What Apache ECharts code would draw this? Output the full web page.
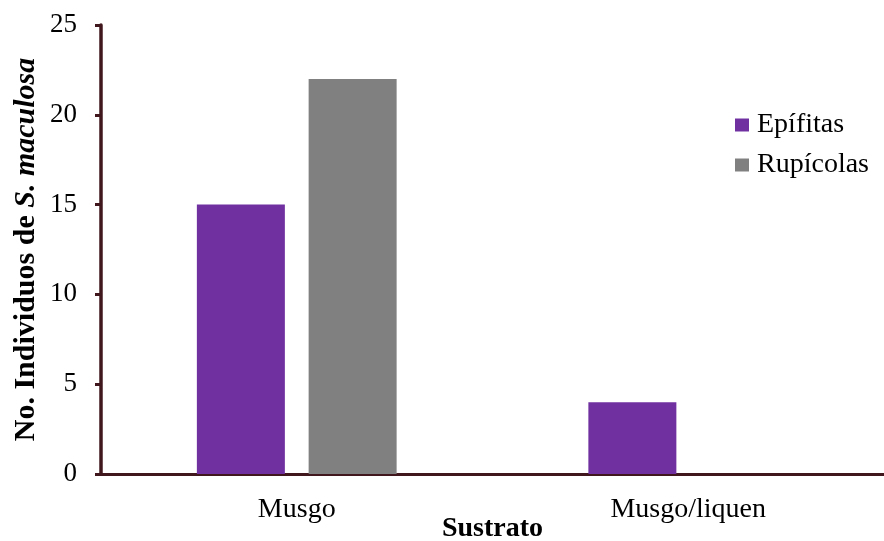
<!DOCTYPE html>
<html>
<head>
<meta charset="utf-8">
<script src="https://cdn.jsdelivr.net/npm/echarts@6/dist/echarts.min.js"></script>
<style>
  html, body { margin: 0; padding: 0; background: #fff; }
  #chart { width: 884px; height: 541px; }
</style>
</head>
<body>
<div id="chart"></div>
<script>
// Substrate categories and individual counts per habit
const categories = ['Musgo', 'Musgo/liquen'];
const epifitas = [15, 4];
const rupicolas = [22, 0];
const yTicks = { min: 0, max: 25, interval: 5 };

const serif = '"Liberation Serif", "Times New Roman", serif';
const axisColor = '#40171c';

const chart = echarts.init(document.getElementById('chart'), null, { renderer: 'canvas' });

chart.setOption({
  animation: false,
  backgroundColor: '#ffffff',
  grid: { left: 101, right: 0, top: 25, bottom: 67, containLabel: false, outerBoundsMode: 'none' },
  legend: {
    left: 735,
    top: 110,
    padding: 0,
    orient: 'vertical',
    itemWidth: 14,
    itemHeight: 13,
    itemGap: 10,
    icon: 'rect',
    textStyle: { fontFamily: serif, fontSize: 28, color: '#000', lineHeight: 30, padding: [0, 0, 0, 3] },
    data: ['Epífitas', 'Rupícolas']
  },
  xAxis: {
    type: 'category',
    data: categories,
    boundaryGap: true,
    name: 'Sustrato',
    nameLocation: 'middle',
    nameGap: 41,
    nameMoveOverlap: false,
    nameTextStyle: { fontFamily: serif, fontSize: 28, fontWeight: 'bold', color: '#000' },
    axisLine: { lineStyle: { color: axisColor, width: 3 } },
    axisTick: { alignWithLabel: true, length: 6, lineStyle: { color: axisColor, width: 3 } },
    axisLabel: { fontFamily: serif, fontSize: 28, color: '#000', margin: 22 }
  },
  yAxis: {
    type: 'value',
    min: yTicks.min,
    max: yTicks.max,
    interval: yTicks.interval,
    name: '{b|No. Individuos de }{i|S. maculosa}',
    nameLocation: 'middle',
    nameGap: 60,
    nameMoveOverlap: false,
    nameRotate: 90,
    nameTextStyle: {
      rich: {
        b: { fontFamily: serif, fontSize: 30, fontWeight: 'bold', color: '#000' },
        i: { fontFamily: serif, fontSize: 30, fontWeight: 'bold', fontStyle: 'italic', color: '#000' }
      }
    },
    splitLine: { show: false },
    axisLine: { show: true, lineStyle: { color: axisColor, width: 3.5 } },
    axisTick: { show: true, length: 6, lineStyle: { color: axisColor, width: 3 } },
    axisLabel: { fontFamily: serif, fontSize: 27, color: '#000', margin: 24 }
  },
  series: [
    {
      name: 'Epífitas',
      type: 'bar',
      data: epifitas,
      barWidth: 88,
      barGap: '27%',
      itemStyle: { color: '#7030a0' }
    },
    {
      name: 'Rupícolas',
      type: 'bar',
      data: rupicolas,
      barWidth: 88,
      itemStyle: { color: '#808080' }
    }
  ]
});
</script>
</body>
</html>
